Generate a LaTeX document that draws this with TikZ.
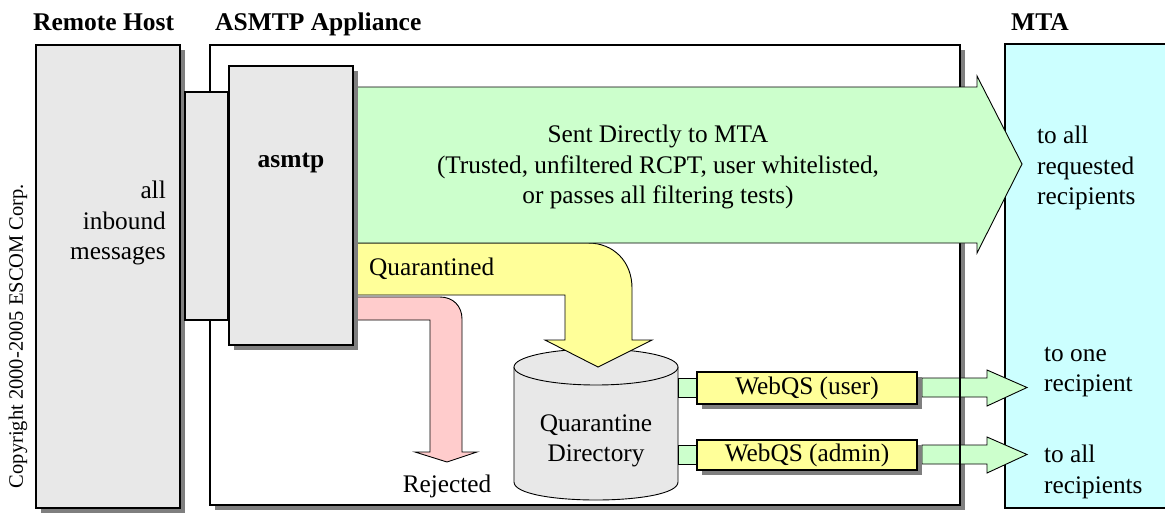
\documentclass[tikz,border=0pt]{standalone}
\usepackage{fontspec}
\setmainfont{Liberation Serif}
\usetikzlibrary{shadows,calc}

\definecolor{boxgray}{HTML}{E8E8E8}
\definecolor{shade}{HTML}{7F7F7F}
\definecolor{passgreen}{HTML}{CCFFCC}
\definecolor{quaryellow}{HTML}{FFFF99}
\definecolor{rejpink}{HTML}{FFCCCC}
\definecolor{mtacyan}{HTML}{CCFFFF}

\tikzset{
  panel/.style={draw=black, line width=1.3pt, anchor=north west, inner sep=0pt, outer sep=0pt},
  shaded/.style={drop shadow={shadow xshift=5pt, shadow yshift=-5pt, fill=shade, opacity=1}},
  heading/.style={font=\bfseries\fontsize{25.5}{27}\selectfont, anchor=base west, inner sep=0pt},
  body/.style={font=\fontsize{25.3}{30.5}\selectfont, inner sep=0pt},
  flow/.style={draw=black, line width=0.9pt, line join=miter},
  tube/.style={draw=black, line width=0.9pt},
}

\begin{document}
\begin{tikzpicture}[x=1pt,y=-1pt]
\useasboundingbox (0,0) rectangle (1165,512);

% column headings
\node[heading] (hRemote) at (33,30) {Remote Host};
\node[heading] (hAppl) at (215,30) {ASMTP Appliance};
\node[heading] (hMTA) at (1011,30) {MTA};

% appliance frame
\node[panel, shaded, fill=white, minimum width=750pt, minimum height=460pt] (appl) at (210,45) {};

% remote host
\node[panel, shaded, fill=boxgray, minimum width=144pt, minimum height=463pt] (remote) at (36,45) {};

% MTA, running off the right edge
\begin{scope}
\clip (0,0) rectangle (1165,512);
\node[panel, fill=mtacyan, minimum width=180pt, minimum height=464pt] (mta) at (1005,44) {};
\end{scope}

% small delivery arrows from the WebQS interfaces
\coordinate (uA) at (922,378);
\coordinate (aA) at (922,445);
\foreach \s in {uA,aA}{
  \fill[passgreen, flow] (\s) -- ++(65,0) -- ++(0,-8) -- ++(40,17.5) -- ++(-40,18.5)
     -- ++(0,-9) -- ++(-65,0) -- cycle;
}
% appliance border passes over the small arrows
\draw[line width=1.3pt] (appl.north west) rectangle (appl.south east);

% quarantine directory cylinder
\fill[boxgray] (514,367) -- (514,482) .. controls (514,506) and (678,506) .. (678,482) -- (678,367) -- cycle;
\draw[tube] (514,367) -- (514,482) .. controls (514,506) and (678,506) .. (678,482) -- (678,367);
\draw[tube, fill=boxgray] (596,367) ellipse [x radius=82, y radius=18];
\node (qdir) at (596,367) {};

% links from the directory to the WebQS boxes
\node[panel, fill=passgreen, line width=0.9pt, minimum width=19pt, minimum height=19pt] (lnkU) at (678,378) {};
\node[panel, fill=passgreen, line width=0.9pt, minimum width=19pt, minimum height=19pt] (lnkA) at (678,445) {};

\node[panel, shaded, fill=quaryellow, line width=1.1pt, minimum width=220pt, minimum height=32pt] (wqU) at (697,372) {};
\node[panel, shaded, fill=quaryellow, line width=1.1pt, minimum width=220pt, minimum height=30pt] (wqA) at (697,440) {};

% quarantined flow
\fill[quaryellow, flow] (350,243) -- (588,243) .. controls (614,243) and (632,262) .. (632,288)
  -- (632,340) -- (652,340) -- (598,367) -- (545,340) -- (565,340) -- (565,295) -- (350,295) -- cycle;

% rejected flow
\fill[rejpink, flow] (350,297) -- (440,297) .. controls (453,297) and (462,306) .. (462,319)
  -- (462,452) -- (477,452) -- (447,462) -- (415,452) -- (430,452) -- (430,320) -- (350,320) -- cycle;

% direct delivery flow
\fill[passgreen, flow] (350,87) -- (977,87) -- (977,76) -- (1022,164) -- (977,253) -- (977,243)
  -- (350,243) -- cycle;

% connection between remote host and appliance
\node[panel, fill=boxgray, line width=1.1pt, minimum width=43pt, minimum height=228pt] (link) at (185,92) {};

% asmtp daemon
\node[panel, shaded, fill=boxgray, minimum width=124pt, minimum height=279pt] (asmtp) at (229,66) {};

% labels
\node[font=\bfseries\fontsize{25.5}{27}\selectfont] (tAsmtp) at (291,163) {asmtp};
\node[body, anchor=east, align=right] (tIn) at (166,223) {all\\inbound\\messages};
\node[body, align=center] (tSent) at (658,167) {Sent Directly to MTA\\(Trusted, unfiltered RCPT, user whitelisted,\\or passes all filtering tests)};
\node[body, anchor=base west] (tQuar) at (369,275) {Quarantined};
\node[body, anchor=base] (tRej) at (447,492) {Rejected};
\node[body, align=center] (tDir) at (596,441) {Quarantine\\Directory};
\node[body] (tWU) at (wqU.center) {WebQS (user)};
\node[body] (tWA) at (wqA.center) {WebQS (admin)};
\node[body, anchor=west, align=left] (tAllReq) at (1037,168) {to all\\requested\\recipients};
\node[body, anchor=west, align=left] (tOne) at (1044,372) {to one\\recipient};
\node[body, anchor=west, align=left] (tAll) at (1044,472) {to all\\recipients};
\node[font=\fontsize{20.5}{22}\selectfont, rotate=90, inner sep=0pt] (copy) at (18,336) {Copyright 2000-2005 ESCOM Corp.};
\end{tikzpicture}
\end{document}
